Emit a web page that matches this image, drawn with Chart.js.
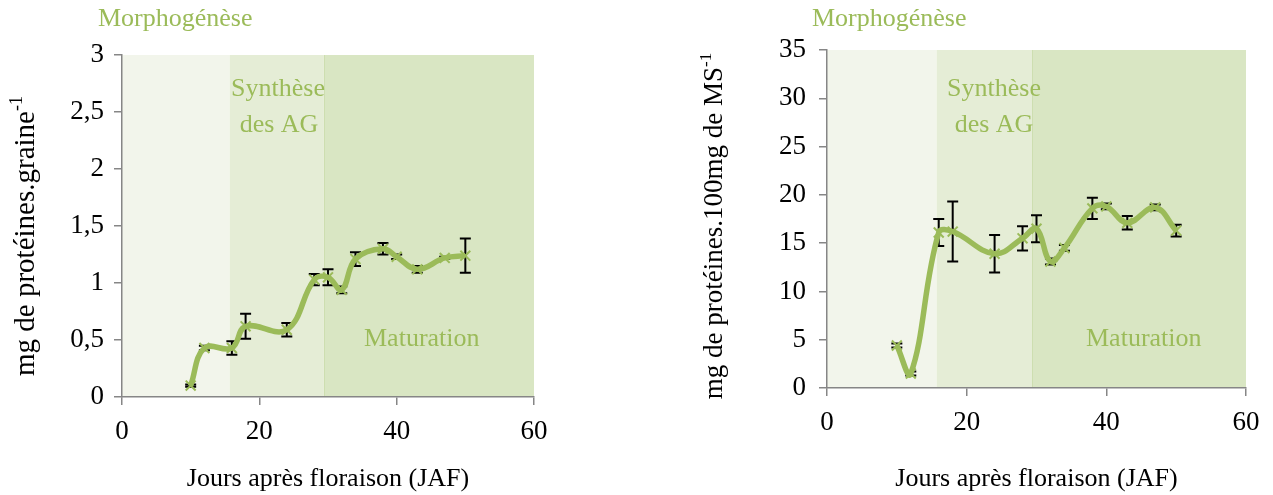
<!DOCTYPE html>
<html lang="fr">
<head>
<meta charset="UTF-8">
<title>Protéines des graines</title>
<style>
  html, body { margin: 0; padding: 0; background: #fff; }
  #wrap { position: relative; width: 1273px; height: 495px; overflow: hidden; }
  canvas { position: absolute; top: 0; }
  #graine { left: 0; }
  #ms { left: 636px; }
</style>
</head>
<body>
<div id="wrap">
  <canvas id="graine" width="636" height="495"></canvas>
  <canvas id="ms" width="637" height="495"></canvas>
</div>

<script src="https://cdn.jsdelivr.net/npm/chart.js@4.4.1/dist/chart.umd.min.js"></script>
<script>
// jours après floraison
const jours = [10, 12, 16, 18, 24, 28, 30, 32, 34, 38, 40, 43, 47, 50];

// mg de protéines par graine (+ écart)
const protGraine = [0.10, 0.43, 0.43, 0.62, 0.59, 1.03, 1.05, 0.94, 1.21, 1.30, 1.23, 1.12, 1.22, 1.24];
const errGraine  = [0.01, 0.02, 0.06, 0.11, 0.06, 0.05, 0.07, 0.03, 0.06, 0.05, 0.02, 0.03, 0.01, 0.15];

// mg de protéines pour 100 mg de MS (+ écart)
const protMS = [4.4, 1.5, 16.1, 16.2, 13.9, 15.5, 16.5, 13.1, 14.5, 18.6, 18.8, 17.1, 18.7, 16.3];
const errMS  = [0.2, 0.2, 1.4, 3.1, 1.95, 1.25, 1.4, 0.3, 0.3, 1.1, 0.3, 0.7, 0.3, 0.6];

// limites des phases (JAF)
const phases = [0, 15.7, 29.4, 60];

const vert = "#9bbb59";
const serif = '"Liberation Serif", "Times New Roman", serif';

Chart.defaults.font.family = serif;
Chart.defaults.color = "#000";

const phasesPlugin = {
  id: "phases",
  beforeDraw(chart, args, opts) {
    const ctx = chart.ctx, a = chart.chartArea, x = chart.scales.x;
    ctx.save();
    for (let i = 0; i < phases.length - 1; i++) {
      const x0 = x.getPixelForValue(phases[i]);
      const x1 = x.getPixelForValue(phases[i + 1]);
      ctx.fillStyle = opts.colors[i];
      ctx.fillRect(x0, a.top, x1 - x0, a.bottom - a.top);
    }
    ctx.strokeStyle = "#cddeb0";
    ctx.lineWidth = 1;
    const xb = Math.round(x.getPixelForValue(phases[2])) + 0.5;
    ctx.beginPath();
    ctx.moveTo(xb, a.top);
    ctx.lineTo(xb, a.bottom);
    ctx.stroke();
    ctx.restore();
  },
  afterDraw(chart, args, opts) {
    const ctx = chart.ctx;
    ctx.save();
    ctx.fillStyle = vert;
    ctx.font = "26px " + serif;
    ctx.textBaseline = "alphabetic";
    opts.labels.forEach(l => {
      ctx.textAlign = l.align || "left";
      ctx.fillText(l.text, l.x, l.y);
    });
    // titre de l'axe y avec exposant
    const t = opts.yTitle;
    const big = t.size + "px " + serif, small = Math.round(t.size * 0.63) + "px " + serif;
    ctx.fillStyle = "#000";
    ctx.font = big;
    const w1 = ctx.measureText(t.text).width;
    ctx.font = small;
    const w2 = ctx.measureText(t.sup).width;
    ctx.translate(t.x, t.y);
    ctx.rotate(-Math.PI / 2);
    ctx.textAlign = "left";
    ctx.font = big;
    ctx.fillText(t.text, -(w1 + w2) / 2, 0);
    ctx.font = small;
    ctx.fillText(t.sup, -(w1 + w2) / 2 + w1, -t.size * 0.4);
    ctx.restore();
  }
};

const errorPlugin = {
  id: "errbars",
  beforeDatasetsDraw(chart, args, opts) {
    const ctx = chart.ctx, x = chart.scales.x, y = chart.scales.y;
    ctx.save();
    ctx.strokeStyle = "#000";
    ctx.lineWidth = 2;
    opts.values.forEach((v, i) => {
      const px = x.getPixelForValue(jours[i]);
      const top = y.getPixelForValue(v + opts.errors[i]);
      const bot = y.getPixelForValue(v - opts.errors[i]);
      ctx.beginPath();
      ctx.moveTo(px, top); ctx.lineTo(px, bot);
      ctx.moveTo(px - 5.5, top); ctx.lineTo(px + 5.5, top);
      ctx.moveTo(px - 5.5, bot); ctx.lineTo(px + 5.5, bot);
      ctx.stroke();
    });
    ctx.restore();
  }
};

function makeChart(id, values, errors, yMax, yStep, yWidth, yPad, xHeight, padding, labels, yTitle) {
  return new Chart(id, {
    type: "line",
    data: {
      datasets: [{
        data: jours.map((j, i) => ({ x: j, y: values[i] })),
        borderColor: vert,
        borderWidth: 5.5,
        tension: 0.4,
        pointStyle: "crossRot",
        pointRadius: 7,
        pointBorderWidth: 2,
        pointBorderColor: vert,
        pointBackgroundColor: vert
      }]
    },
    options: {
      responsive: false,
      animation: false,
      layout: { padding: padding },
      plugins: {
        legend: { display: false },
        tooltip: { enabled: false },
        phases: {
          colors: ["#f2f5eb", "#e5edd6", "#d9e6c3"],
          labels: labels,
          yTitle: yTitle
        },
        errbars: { values: values, errors: errors }
      },
      scales: {
        x: {
          type: "linear",
          min: 0, max: 60,
          ticks: { stepSize: 20, padding: 11, font: { size: 27 } },
          grid: { drawOnChartArea: false, tickLength: 8, color: "#868686", lineWidth: 1.5 },
          border: { color: "#868686", width: 1.5 },
          title: {
            display: true,
            text: "Jours après floraison (JAF)",
            font: { size: 26 },
            padding: { top: 0, bottom: 0 }
          },
          afterFit(s) { s.height = xHeight; }
        },
        y: {
          min: 0, max: yMax,
          ticks: {
            stepSize: yStep, padding: yPad, font: { size: 27 },
            callback: v => String(v).replace(".", ",")
          },
          grid: { drawOnChartArea: false, tickLength: 8, color: "#868686", lineWidth: 1.5 },
          border: { color: "#868686", width: 1.5 },
          afterFit(s) { s.width = yWidth; }
        }
      }
    },
    plugins: [phasesPlugin, errorPlugin]
  });
}

makeChart("graine", protGraine, errGraine, 3, 0.5, 122, 10, 98,
  { left: 0, top: 55, right: 102, bottom: 0 },
  [
    { text: "Morphogénèse", x: 98, y: 26 },
    { text: "Synthèse", x: 278, y: 96, align: "center" },
    { text: "des AG", x: 279, y: 132, align: "center" },
    { text: "Maturation", x: 364, y: 346 }
  ],
  { text: "mg de protéines.graine", sup: "-1", size: 29, x: 34, y: 236 }
);

makeChart("ms", protMS, errMS, 35, 5, 137, 13, 107,
  { left: 54, top: 50, right: 27, bottom: 0 },
  [
    { text: "Morphogénèse", x: 176, y: 26 },
    { text: "Synthèse", x: 358, y: 96, align: "center" },
    { text: "des AG", x: 358, y: 132, align: "center" },
    { text: "Maturation", x: 450, y: 346 }
  ],
  { text: "mg de protéines.100mg de MS", sup: "-1", size: 27, x: 86, y: 226 }
);
</script>
</body>
</html>
